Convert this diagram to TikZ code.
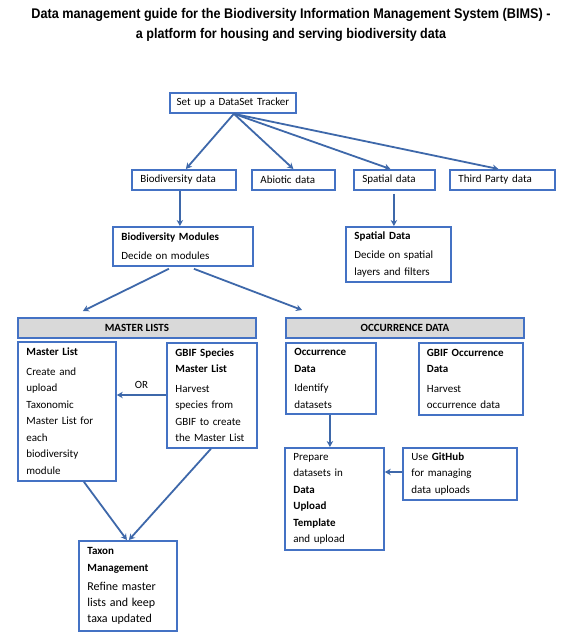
\documentclass[tikz,border=0pt]{standalone}
\usepackage{fontspec}
\setmainfont{Carlito}
\newfontfamily\titlefont{Liberation Sans}
\usepackage{graphicx}
\usetikzlibrary{arrows.meta,calc}
\definecolor{boxblue}{RGB}{68,114,196}
\definecolor{arrowblue}{RGB}{62,104,170}
\definecolor{headgray}{RGB}{217,217,217}
\tikzset{
  box/.style={draw=boxblue, line width=1.8pt, anchor=north west, align=left,
    inner xsep=8.5pt, inner ysep=1pt, font=\fontsize{11}{16.5}\selectfont},
  headbox/.style={draw=boxblue, fill=headgray, line width=1.8pt, anchor=north west,
    align=center, inner sep=0pt, font=\bfseries\fontsize{11}{13}\selectfont},
  arr/.style={draw=arrowblue, line width=1.8pt, -{Stealth[length=6pt,width=6.5pt]}},
  titletext/.style={align=center, inner sep=0pt, font=\titlefont\bfseries\fontsize{14}{20}\selectfont},
}
\begin{document}
\begin{tikzpicture}[x=1pt,y=-1pt]
\fill[white] (0,0) rectangle (573,637);
\useasboundingbox (0,0) rectangle (573,637);

% title
\node[titletext] (title) at (291,25)
  {\resizebox{519pt}{\height}{Data management guide for the Biodiversity Information Management System (BIMS) -}\\
   \resizebox{310pt}{\height}{a platform for housing and serving biodiversity data}};

% top level
\node[box, align=center, inner xsep=6pt, text width=114pt, minimum width=126pt, minimum height=20pt] (tracker) at (169,92) {Set up a DataSet Tracker};
\node[box, text width=87pt, minimum width=104pt, minimum height=20pt] (biod) at (131,169) {Biodiversity data};
\node[box, text width=66pt, minimum width=83pt, minimum height=20pt] (abiotic) at (251,169) {Abiotic data};
\node[box, text width=64pt, minimum width=81pt, minimum height=20pt] (spatial) at (353,169) {Spatial data};
\node[box, text width=88pt, minimum width=105pt, minimum height=20pt] (third) at (449,169) {Third Party data};

% second level
\node[box, text width=123pt, minimum width=140pt, minimum height=39pt] (modules) at (112,226)
  {\textbf{Biodiversity Modules}\\[3pt]Decide on modules};
\node[box, text width=88pt, minimum width=105pt, minimum height=55pt] (spatialD) at (345,226)
  {\textbf{Spatial Data}\\[3pt]Decide on spatial\\layers and filters};

% headers
\node[headbox, minimum width=238pt, minimum height=20pt] (masterH) at (17,317) {MASTER LISTS};
\node[headbox, minimum width=238pt, minimum height=20pt] (occH) at (285,317) {OCCURRENCE DATA};

% master lists
\node[box, text width=81pt, minimum width=98pt, minimum height=139pt] (masterL) at (17,341)
  {\textbf{Master List}\\[3pt]Create and\\upload\\Taxonomic\\Master List for\\each\\biodiversity\\module};
\node[box, text width=73pt, minimum width=90pt, minimum height=105pt] (gbifS) at (166,342)
  {\textbf{GBIF Species}\\\textbf{Master List}\\[3pt]Harvest\\species from\\GBIF to create\\the Master List};
\node[box, text width=81pt, minimum width=98pt, minimum height=90pt] (taxon) at (78,540)
  {\textbf{Taxon}\\\textbf{Management}\\[3pt]{\fontsize{12}{16}\selectfont Refine master\\lists and keep\\taxa updated}};

% occurrence
\node[box, text width=73pt, minimum width=90pt, minimum height=71pt] (occD) at (285,342)
  {\textbf{Occurrence}\\\textbf{Data}\\[3pt]Identify\\datasets};
\node[box, inner xsep=8pt, text width=88pt, minimum width=104pt, minimum height=72pt] (gbifO) at (418,342)
  {\textbf{GBIF Occurrence}\\\textbf{Data}\\[3pt]Harvest\\occurrence data};
\node[box, text width=82pt, minimum width=99pt, minimum height=102pt] (prep) at (284,447)
  {Prepare\\datasets in\\\textbf{Data}\\\textbf{Upload}\\\textbf{Template}\\and upload};
\node[box, text width=97pt, minimum width=114pt, minimum height=52pt] (github) at (402,447)
  {Use \textbf{GitHub}\\for managing\\data uploads};

% helper points on node borders
\coordinate (bdS) at ($(biod.south)+(-4,0)$);
\coordinate (spS) at ($(spatial.south)+(-0.5,3)$);
\coordinate (ocS) at ($(occD.south)+(-1,0)$);

% connectors
\draw[arr] ($(tracker.south)+(1,0)$) -- ($(biod.north)+(2,0)$);
\draw[arr] ($(tracker.south)+(1,0)$) -- (abiotic.north);
\draw[arr] ($(tracker.south)+(1,0)$) -- ($(spatial.north)+(-4,0)$);
\draw[arr] ($(tracker.south)+(1,0)$) -- ($(third.north)+(-4,0)$);
\draw[arr] (bdS) -- (bdS |- modules.north);
\draw[arr] (spS) -- (spS |- spatialD.north);
\draw[arr] ($(modules.south)+(-14,2)$) -- ($(masterH.north)+(-54,-6)$);
\draw[arr] ($(modules.south)+(11,2)$) -- ($(occH.north west)+(17,-7)$);
\draw[arr] (gbifS.west |- 0,395) -- (masterL.east |- 0,395) node[midway, above=2pt, font=\fontsize{11}{13}\selectfont] (orlabel) {OR};
\draw[arr] ($(masterL.south)+(17,0)$) -- ($(taxon.north)+(-1,0)$);
\draw[arr] ($(gbifS.south)+(-1,0)$) -- ($(taxon.north)+(1,0)$);
\draw[arr] (ocS) -- (ocS |- prep.north);
\draw[arr] (github.west |- 0,472) -- (prep.east |- 0,472);
\end{tikzpicture}
\end{document}
